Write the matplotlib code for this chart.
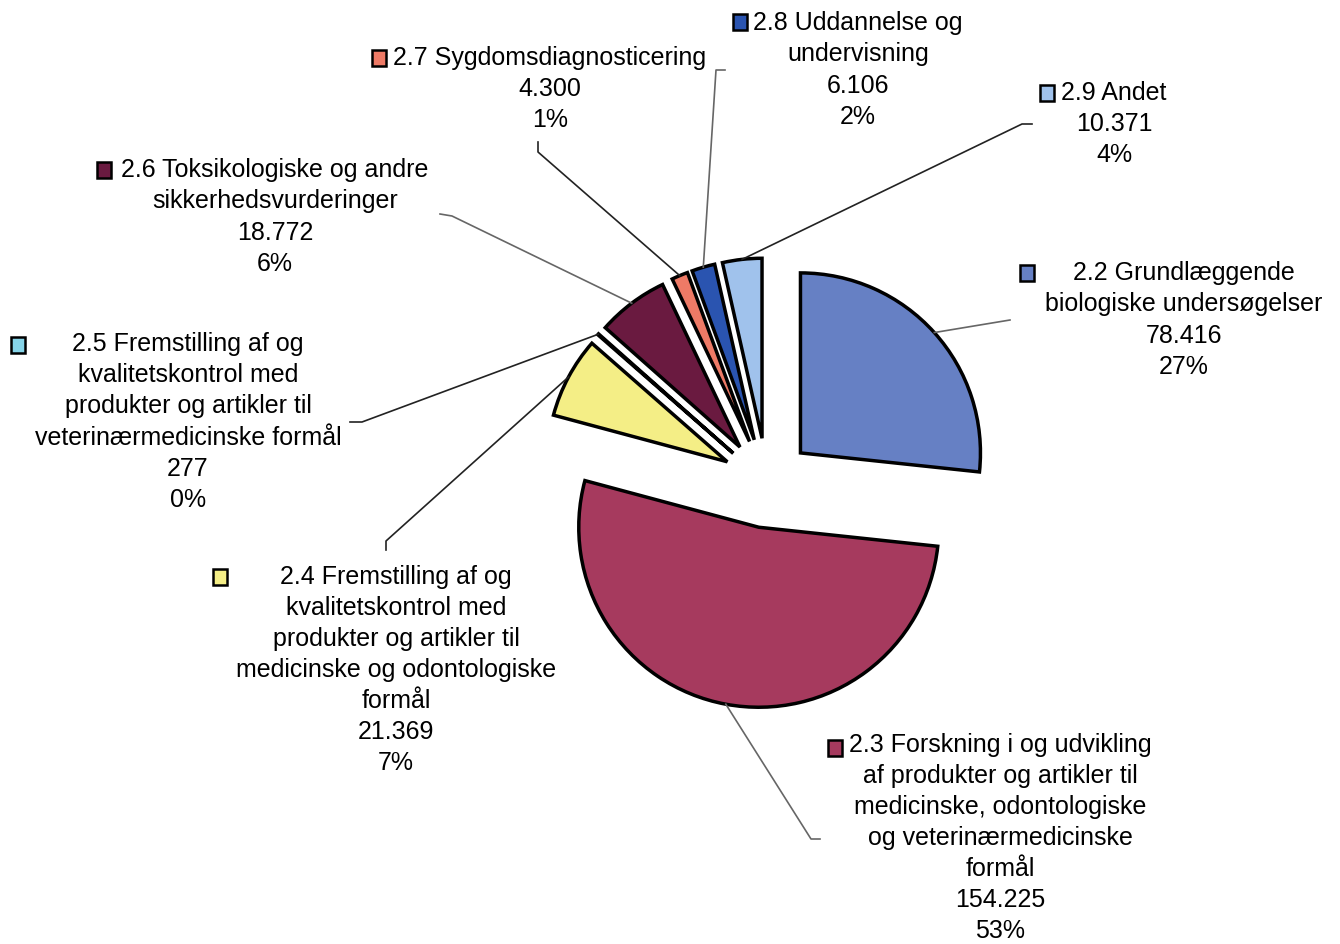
import numpy as np
import matplotlib
matplotlib.use("Agg")
import matplotlib.pyplot as plt
from matplotlib.patches import Rectangle

plt.rcParams['font.family'] = ['Liberation Sans Narrow', 'Liberation Sans', 'DejaVu Sans']

# data (antal dyr pr. formål)
codes = ["2.2", "2.3", "2.4", "2.5", "2.6", "2.7", "2.8", "2.9"]
names = [
    "Grundlæggende\nbiologiske undersøgelser",
    "Forskning i og udvikling\naf produkter og artikler til\nmedicinske, odontologiske\nog veterinærmedicinske\nformål",
    "Fremstilling af og\nkvalitetskontrol med\nprodukter og artikler til\nmedicinske og odontologiske\nformål",
    "Fremstilling af og\nkvalitetskontrol med\nprodukter og artikler til\nveterinærmedicinske formål",
    "Toksikologiske og andre\nsikkerhedsvurderinger",
    "Sygdomsdiagnosticering",
    "Uddannelse og\nundervisning",
    "Andet",
]
values = [78416, 154225, 21369, 277, 18772, 4300, 6106, 10371]
pcts = [27, 53, 7, 0, 6, 1, 2, 4]   # as printed in the chart
colors = ["#6680c4", "#a63a5e", "#f4ee86", "#86d4e8", "#6a1a40", "#ee7a66", "#2a54b0", "#a0c2ec"]

# layout in pixel coordinates (y down)
W, H = 1340, 944
center = (767, 483)
radius = 180
expl = 45
label_xy = [(1184, 320), (1000, 838), (396, 670), (188, 422), (275, 217), (550, 89), (858, 70), (1114, 124)]
marker_xy = [(1020, 273), (828, 748), (213, 577), (11, 345), (97, 170), (372, 58), (733, 22), (1040, 93)]
leader_pts = [
    [(1010, 320)],
    [(820, 839), (811, 839)],
    [(386, 550), (386, 541)],
    [(350, 422), (362, 422)],
    [(440, 214), (452, 216)],
    [(538, 142), (538, 152)],
    [(725, 70), (716, 70)],
    [(1032, 124), (1022, 124)],
]
leader_col = ["#666666", "#666666", "#222222", "#222222", "#666666", "#222222", "#666666", "#222222"]


def fmt(v):
    return f"{v:,}".replace(",", ".")


fig = plt.figure(figsize=(W / 100, H / 100), dpi=100)
ax = fig.add_axes([0, 0, 1, 1])
ax.pie(values, colors=colors, center=center, radius=radius, explode=[expl] * len(values),
       startangle=-90, counterclock=True,
       wedgeprops=dict(edgecolor="black", linewidth=2.5))
ax.set_xlim(0, W)
ax.set_ylim(H, 0)
ax.set_aspect("auto")
ax.axis("off")

total = sum(values)
frac = np.array(values) / total
start = -90 + 360 * np.concatenate([[0], np.cumsum(frac)[:-1]])
mid = np.deg2rad(start + 180 * frac)

for i, v in enumerate(values):
    # point on the outer arc, middle of the exploded slice
    px = center[0] + (expl + radius) * np.cos(mid[i])
    py = center[1] + (expl + radius) * np.sin(mid[i])
    pts = leader_pts[i] + [(px, py)]
    ax.plot([p[0] for p in pts], [p[1] for p in pts], color=leader_col[i], lw=1.2)

    txt = f"{codes[i]} {names[i]}\n{fmt(v)}\n{pcts[i]}%"
    ax.text(label_xy[i][0], label_xy[i][1], txt, ha="center", va="center",
            fontsize=18, linespacing=1.37, color="black")

    mx, my = marker_xy[i]
    ax.add_patch(Rectangle((mx, my - 8), 14, 16, facecolor=colors[i], edgecolor="black", lw=1.8))

fig.savefig("out.png", dpi=100, facecolor="white")
